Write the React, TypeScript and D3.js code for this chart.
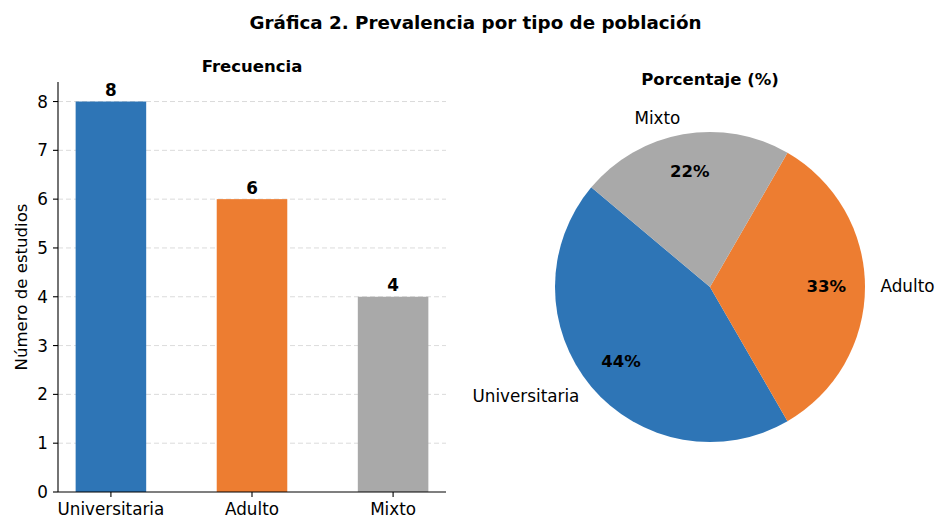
import React from "react";
import * as d3 from "d3";

const categories = ["Universitaria", "Adulto", "Mixto"];
const counts = [8, 6, 4];
const colors = ["#2E75B6", "#ED7D31", "#A9A9A9"];
const yTicks = [0, 1, 2, 3, 4, 5, 6, 7, 8];

const FONT = "DejaVu Sans, Verdana, sans-serif";

export default function App() {
  const W = 936, H = 518;
  // bar panel
  const left = 58, right = 446, top = 82, bottom = 492;
  const x = d3.scaleLinear().domain([-0.375, 2.375]).range([left, right]);
  const y = d3.scaleLinear().domain([0, 8.4]).range([bottom, top]);
  const barW = x(0.5) - x(0);

  // pie
  const cx = 710, cy = 287, r = 155;
  const total = d3.sum(counts);
  // matplotlib: startangle 140, counterclockwise
  const pieGen = d3
    .pie<number>()
    .sort(null)
    .value((d) => d)
    .startAngle(((90 - 140) * Math.PI) / 180)
    .endAngle(((90 - 140 - 360) * Math.PI) / 180);
  const arcs = pieGen(counts);
  const arcGen = d3.arc<d3.PieArcDatum<number>>().innerRadius(0).outerRadius(r);
  const pos = (a: d3.PieArcDatum<number>, k: number) => {
    const m = (a.startAngle + a.endAngle) / 2; // d3 angle: 0 at top, clockwise
    return [cx + k * r * Math.sin(m), cy - k * r * Math.cos(m)];
  };

  return (
    <svg
      width={W}
      height={H}
      style={{ position: "absolute", left: 0, top: 0, background: "#fff" }}
      fontFamily={FONT}
    >
      <text x={475.5} y={29} textAnchor="middle" fontSize={18.3} fontWeight="bold">
        Gráfica 2. Prevalencia por tipo de población
      </text>

      {/* Bar chart */}
      <text x={(left + right) / 2} y={72} textAnchor="middle" fontSize={16.5} fontWeight="bold">
        Frecuencia
      </text>
      {yTicks.slice(1).map((t) => (
        <line
          key={"g" + t}
          x1={left}
          x2={right}
          y1={y(t)}
          y2={y(t)}
          stroke="#b0b0b0"
          strokeOpacity={0.45}
          strokeDasharray="5,3"
          strokeWidth={1}
        />
      ))}
      {counts.map((v, i) => (
        <g key={"b" + i}>
          <rect x={x(i) - barW / 2} y={y(v)} width={barW} height={y(0) - y(v)} fill={colors[i]} />
          <text x={x(i)} y={y(v) - 5.5} textAnchor="middle" fontSize={16.8} fontWeight="bold">
            {v}
          </text>
        </g>
      ))}
      <line x1={left} x2={left} y1={top} y2={bottom} stroke="#000" strokeWidth={1.1} />
      <line x1={left} x2={right} y1={bottom} y2={bottom} stroke="#000" strokeWidth={1.1} />
      {yTicks.map((t) => (
        <g key={"yt" + t}>
          <line x1={left - 5} x2={left} y1={y(t)} y2={y(t)} stroke="#000" strokeWidth={1.1} />
          <text x={left - 10} y={y(t)} dy="0.36em" textAnchor="end" fontSize={16.8}>
            {t}
          </text>
        </g>
      ))}
      {categories.map((c, i) => (
        <g key={"xt" + i}>
          <line x1={x(i)} x2={x(i)} y1={bottom} y2={bottom + 5} stroke="#000" strokeWidth={1.1} />
          <text x={x(i)} y={514.5} textAnchor="middle" fontSize={16.8}>
            {c}
          </text>
        </g>
      ))}
      <text
        transform={`translate(27,${(top + bottom) / 2}) rotate(-90)`}
        textAnchor="middle"
        fontSize={16.6}
      >
        Número de estudios
      </text>

      {/* Pie chart */}
      <text x={cx} y={85} textAnchor="middle" fontSize={16.5} fontWeight="bold">
        Porcentaje (%)
      </text>
      <g transform={`translate(${cx},${cy})`}>
        {arcs.map((a, i) => (
          <path key={"p" + i} d={arcGen(a) || ""} fill={colors[i]} />
        ))}
      </g>
      {arcs.map((a, i) => {
        const [lx, ly] = pos(a, 1.1);
        const [px, py] = pos(a, 0.75);
        return (
          <g key={"pl" + i}>
            <text
              x={lx}
              y={ly}
              dy="0.3em"
              textAnchor={lx < cx - 0.5 ? "end" : "start"}
              fontSize={16.8}
            >
              {categories[i]}
            </text>
            <text x={px} y={py} dy="0.3em" textAnchor="middle" fontSize={16.5} fontWeight="bold">
              {`${Math.round((counts[i] / total) * 100)}%`}
            </text>
          </g>
        );
      })}
    </svg>
  );
}
